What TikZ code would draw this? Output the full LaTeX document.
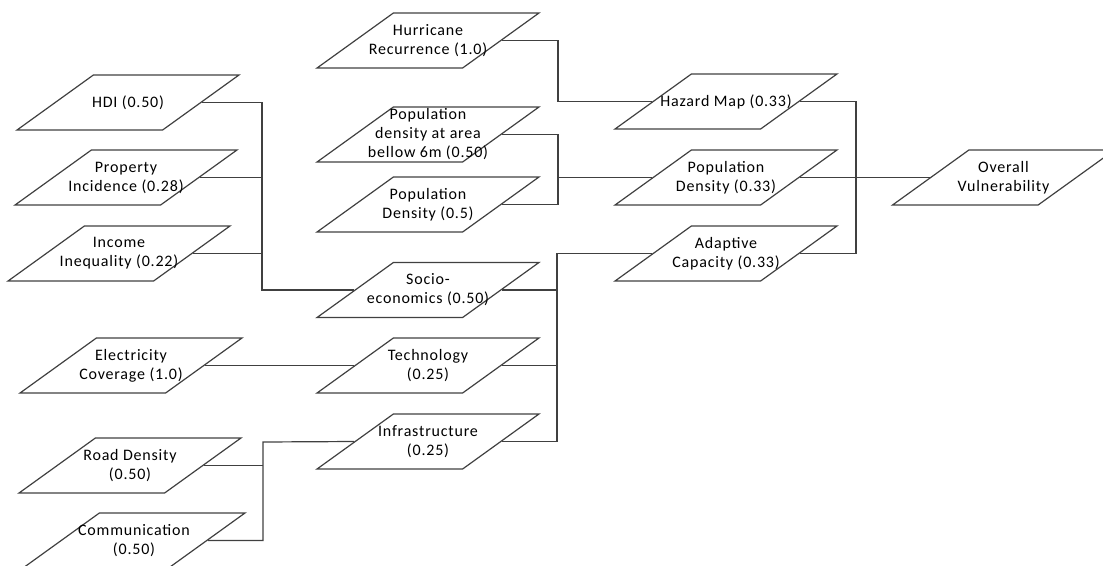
\documentclass[tikz,border=0pt]{standalone}
\usepackage{fontspec}
\setmainfont{Carlito}[LetterSpace=5]
\usetikzlibrary{shapes.geometric}
% a parallelogram box with its caption set on top of it
\newcommand\parabox[3]{%
  \node[para] (#1) at #2 {\phantom{x}};
  \node[lbl] (#1-t) at (#1.center) {#3};}
\begin{document}
\begin{tikzpicture}[x=1pt,y=-1pt,
  para/.style={trapezium, trapezium left angle=45, trapezium right angle=135,
    trapezium stretches=true, minimum width=222pt, minimum height=55pt,
    inner sep=0pt, draw=black!75, line width=1.2pt},
  lbl/.style={align=center, inner sep=0pt, text=black,
    font=\fontsize{16}{19}\selectfont},
  link/.style={draw=black!75, line width=1.2pt}]
\useasboundingbox (0,0) rectangle (1103,565);
\clip (0,0) rectangle (1103,565);

% leaf indicators
\parabox{hdi}{(128,102.5)}{HDI (0.50)}
\parabox{prop}{(126,177.5)}{Property\\Incidence (0.28)}
\parabox{inc}{(119,253.5)}{Income\\Inequality (0.22)}
\parabox{elec}{(131,365.5)}{Electricity\\Coverage (1.0)}
\parabox{road}{(130,465.5)}{Road Density\\(0.50)}
\parabox{comm}{(134,540.5)}{Communication\\(0.50)}

\parabox{hur}{(428,40.5)}{Hurricane\\Recurrence (1.0)}
\parabox{parea}{(428,134.5)}{Population\\density at area\\bellow 6m (0.50)}
\parabox{pdens}{(428,204.5)}{Population\\Density (0.5)}

% sub-indices
\parabox{socio}{(428,290)}{Socio-\\economics (0.50)}
\parabox{tech}{(428,365.5)}{Technology\\(0.25)}
\parabox{infra}{(428,441.5)}{Infrastructure\\(0.25)}

% components
\parabox{haz}{(726,101.5)}{Hazard Map (0.33)}
\parabox{pd33}{(726,177.5)}{Population\\Density (0.33)}
\parabox{adap}{(726,253.5)}{Adaptive\\Capacity (0.33)}

\parabox{over}{(1003.5,177.5)}{Overall\\Vulnerability}

% bus junctions
\coordinate (jse) at (262,290);
\coordinate (jin) at (263,442);
\coordinate (jhz) at (558,101.5);
\coordinate (jpd) at (558,177.5);
\coordinate (jad) at (557,253.5);
\coordinate (jov) at (856,177.5);

% socio-economics
\draw[link] (hdi.right side) -| (jse) -- (socio.left side);
\draw[link] (prop.right side) -- (prop.right side -| jse);
\draw[link] (inc.right side) -- (inc.right side -| jse);

% technology
\draw[link] (elec.right side) -- (tech.left side);

% infrastructure
\draw[link] (comm.right side) -| (jin) -- (infra.left side);
\draw[link] (road.right side) -- (road.right side -| jin);

% hazard
\draw[link] (hur.right side) -| (jhz) -- (haz.left side);

% population density
\draw[link] (parea.right side) -| (pdens.right side -| jpd) -- (pdens.right side);
\draw[link] (jpd) -- (pd33.left side);

% adaptive capacity
\draw[link] (infra.right side) -| (jad) -- (adap.left side);
\draw[link] (socio.right side) -- (socio.right side -| jad);
\draw[link] (tech.right side) -- (tech.right side -| jad);

% overall
\draw[link] (haz.right side) -| (adap.right side -| jov) -- (adap.right side);
\draw[link] (pd33.right side) -- (over.left side);
\end{tikzpicture}
\end{document}
